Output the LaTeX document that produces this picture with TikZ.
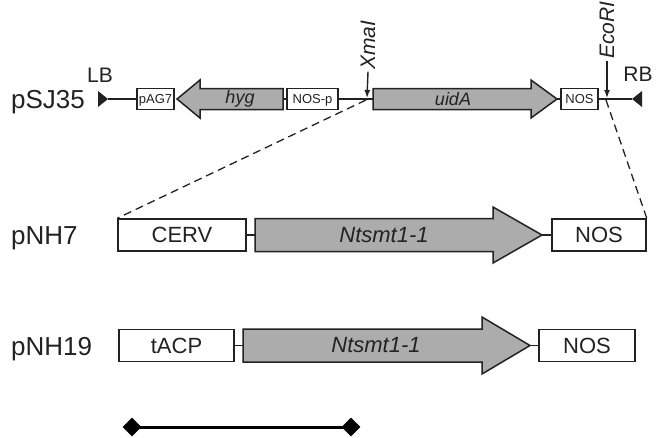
\documentclass[tikz,border=0pt]{standalone}
\usepackage{fontspec}
\setmainfont{Liberation Sans}
\usetikzlibrary{arrows.meta,shapes.geometric}
\definecolor{genegray}{RGB}{172,172,172}
\definecolor{ink}{RGB}{34,34,34}
\tikzset{
  seg/.style={draw=ink, line width=1.5pt},
  smallbox/.style={draw=ink, line width=1.5pt, fill=white, inner sep=0pt, text=ink,
    minimum height=21pt, font=\fontsize{13pt}{15pt}\selectfont, text height=9.3pt, text depth=0pt},
  bigbox/.style={draw=ink, line width=1.5pt, fill=white, inner sep=0pt, text=ink,
    minimum height=32pt, font=\fontsize{22pt}{26pt}\selectfont, text height=15.8pt, text depth=0pt},
  gene/.style={draw=ink, line width=1.5pt, fill=genegray, line join=miter},
  genetext/.style={inner sep=0pt, text=ink, font=\fontsize{18pt}{22pt}\selectfont\itshape},
  bigtext/.style={inner sep=0pt, text=ink, font=\fontsize{22pt}{26pt}\selectfont\itshape},
  plasmid/.style={inner sep=0pt, anchor=base west, text=ink, font=\fontsize{26pt}{30pt}\selectfont},
  border/.style={inner sep=0pt, text=ink, font=\fontsize{21pt}{25pt}\selectfont},
  site/.style={inner sep=0pt, text=ink, rotate=90, font=\fontsize{21pt}{25pt}\selectfont\itshape},
  sitearrow/.style={draw=ink, line width=1.4pt, -{Latex[length=8pt,width=6pt]}},
  dashline/.style={draw=ink, line width=1.3pt, dash pattern=on 8pt off 5pt},
  tick/.style={shape=diamond, fill=black, inner sep=0pt, minimum width=19pt, minimum height=19pt},
}
\begin{document}
\begin{tikzpicture}[x=1pt,y=-1pt]
\useasboundingbox (0,0) rectangle (666,437);

% ---------- pSJ35 ----------
\node[plasmid] (psj) at (11,108.5) {pSJ35};
\node[border] (lbtext) at (100,75) {LB};
\node[border] (rbtext) at (638,74) {RB};
\fill[ink] (98,91) -- (108,99) -- (98,107) -- cycle;
\coordinate (lb) at (108,99);
\fill[ink] (642,91) -- (632,99) -- (642,107) -- cycle;
\coordinate (rb) at (632,99);

\node[smallbox, minimum width=37pt] (pag7) at (155.5,99) {pAG7};
\draw[gene] (283,88.5) -- (200,88.5) -- (200,80) -- (177,99) -- (200,118) -- (200,109.5) -- (283,109.5) -- cycle;
\coordinate (hygtip) at (177,99);
\coordinate (hygtail) at (283,99);
\node[genetext] (hyg) at (240,99) {hyg};
\node[smallbox, minimum width=51pt] (nosp) at (312.5,99) {NOS-p};
\draw[gene] (373,88.5) -- (531,88.5) -- (531,80) -- (557,99) -- (531,118) -- (531,109.5) -- (373,109.5) -- cycle;
\coordinate (uidtail) at (373,99);
\coordinate (uidtip) at (557,99);
\node[genetext] (uida) at (453,99) {uidA};
\node[smallbox, minimum width=37pt] (nos1) at (579.5,99) {NOS};

\draw[seg] (lb) -- (pag7.west);
\draw[seg] (hygtail) -- (nosp.west);
\draw[seg] (nosp.east) -- (uidtail);
\draw[seg] (uidtip) -- (nos1.west);
\draw[seg] (nos1.east) -- (rb);

\coordinate (xma) at (367,98);
\coordinate (eco) at (607,98);
\node[site] (xmatext) at (368,45) {XmaI};
\node[site] (ecotext) at (607,30) {EcoRI};
\draw[sitearrow] (xmatext.west) ++(0,2) -- (xma);
\draw[sitearrow] (ecotext.west) ++(0,2) -- (eco);

% ---------- pNH7 ----------
\node[plasmid] (pnh7) at (11,244.5) {pNH7};
\node[bigbox, minimum width=128pt] (cerv) at (182,235) {CERV};
\draw[gene] (255,218.5) -- (493,218.5) -- (493,207) -- (542,235) -- (493,263) -- (493,251.5) -- (255,251.5) -- cycle;
\coordinate (nt7tail) at (255,235);
\coordinate (nt7tip) at (542,235);
\node[bigtext] (nt7) at (384,235) {Ntsmt1-1};
\node[bigbox, minimum width=94pt] (nos7) at (599,235) {NOS};
\draw[seg] (cerv.east) -- (nt7tail);
\draw[seg] (nt7tip) -- (nos7.west);

\draw[dashline] (366,100) -- (cerv.north west);
\draw[dashline] (606,100) -- (nos7.north east);

% ---------- pNH19 ----------
\node[plasmid] (pnh19) at (11,355.5) {pNH19};
\node[bigbox, minimum width=115pt] (tacp) at (176.5,345.5) {tACP};
\draw[gene] (243,329) -- (482,329) -- (482,317) -- (530,345.5) -- (482,374) -- (482,362) -- (243,362) -- cycle;
\coordinate (nt19tail) at (243,345.5);
\coordinate (nt19tip) at (530,345.5);
\node[bigtext] (nt19) at (376,345.5) {Ntsmt1-1};
\node[bigbox, minimum width=96pt] (nos19) at (587,345.5) {NOS};
\draw[seg] (tacp.east) -- (nt19tail);
\draw[seg] (nt19tip) -- (nos19.west);

% ---------- scale bar ----------
\node[tick] (sbl) at (132,427) {};
\node[tick] (sbr) at (351,427) {};
\draw[draw=black, line width=3pt] (sbl.center) -- (sbr.center);
\end{tikzpicture}
\end{document}
